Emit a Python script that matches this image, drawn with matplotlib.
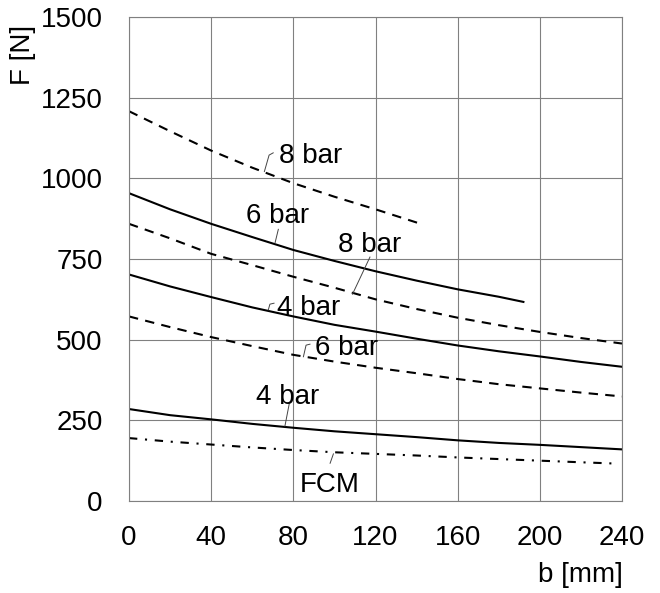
import matplotlib
matplotlib.use("Agg")
import matplotlib.pyplot as plt

plt.rcParams['font.family'] = ['Liberation Sans', 'DejaVu Sans']

# Data (b in mm, F in N), read every 20 mm
b_full = [0, 20, 40, 60, 80, 100, 120, 140, 160, 180, 200, 220, 240]

b_8bar_dash = [0, 20, 40, 60, 80, 100, 120, 142]
f_8bar_dash = [1208, 1146, 1086, 1033, 985, 943, 904, 859]

b_6bar_solid = [0, 20, 40, 60, 80, 100, 120, 140, 160, 180, 192]
f_6bar_solid = [954, 904, 859, 818, 778, 744, 712, 683, 656, 633, 617]

f_8bar_dash2 = [859, 814, 766, 731, 695, 661, 625, 595, 568, 545, 524, 505, 488]
f_4bar_solid = [702, 665, 632, 600, 572, 546, 525, 503, 482, 464, 448, 431, 416]
f_6bar_dash2 = [572, 539, 508, 480, 453, 432, 413, 396, 378, 362, 349, 336, 324]
f_4bar_solid2 = [285, 266, 253, 239, 227, 216, 207, 198, 188, 180, 174, 167, 160]

b_fcm = [0, 20, 40, 60, 80, 100, 120, 140, 160, 180, 200, 220, 237]
f_fcm = [195, 184, 175, 166, 158, 151, 146, 141, 135, 130, 125, 120, 116]

x_ticks = [0, 40, 80, 120, 160, 200, 240]
y_ticks = [0, 250, 500, 750, 1000, 1250, 1500]

# Curve labels: text, left x, baseline y (data units)
label_texts = ["8 bar", "6 bar", "8 bar", "4 bar", "6 bar", "4 bar", "FCM"]
label_x = [73.0, 57.0, 101.7, 72.1, 90.5, 61.8, 83.2]
label_y = [1047, 862, 773, 576, 452, 301, 28]

# Leader lines (data units)
leaders = [
    ([65.9, 68.2, 70.2], [1021, 1072, 1079]),
    ([71.1, 72.7], [800, 842]),
    ([108.8, 117.3], [641, 756]),
    ([67.8, 68.6, 70.6], [592, 610, 613]),
    ([84.9, 86.2, 88.1], [447, 483, 486]),
    ([75.9, 78.0], [232, 301]),
    ([97.9, 99.5], [117, 146]),
]

W, H = 660, 593
fig = plt.figure(figsize=(W / 100, H / 100), dpi=100)
ax = fig.add_axes([129 / W, 1 - 501 / H, (622 - 129) / W, (501 - 17) / H])

grid_c = '#808080'
fs = 20
ax.set_xlim(0, 240)
ax.set_ylim(0, 1500)
ax.set_xticks(x_ticks)
ax.set_yticks(y_ticks)
ax.grid(True, color=grid_c, lw=0.8)
ax.set_axisbelow(True)
for s in ax.spines.values():
    s.set_color(grid_c)
    s.set_linewidth(0.8)
ax.tick_params(length=0, labelsize=fs, colors='black')
ax.tick_params(axis='y', pad=19)
ax.tick_params(axis='x', pad=17.5)

lw = 1.5
dash = (0, (4.5, 3.5))
dashdot = (0, (4, 3.7, 1, 3.7))
ax.plot(b_8bar_dash, f_8bar_dash, color='black', lw=lw, linestyle=dash)
ax.plot(b_6bar_solid, f_6bar_solid, color='black', lw=lw)
ax.plot(b_full, f_8bar_dash2, color='black', lw=lw, linestyle=dash)
ax.plot(b_full, f_4bar_solid, color='black', lw=lw)
ax.plot(b_full, f_6bar_dash2, color='black', lw=lw, linestyle=dash)
ax.plot(b_full, f_4bar_solid2, color='black', lw=lw)
ax.plot(b_fcm, f_fcm, color='black', lw=lw, linestyle=dashdot)

for t, tx, ty in zip(label_texts, label_x, label_y):
    ax.text(tx, ty, t, fontsize=fs, ha='left', va='baseline', color='black')
for lx, ly in leaders:
    ax.plot(lx, ly, color='#444444', lw=0.7)

fig.text(23.5 / W, 1 - 54.5 / H, "F [N]", rotation=90, fontsize=fs,
         ha='center', va='center')
fig.text(623 / W, 1 - 575 / H, "b [mm]", fontsize=fs, ha='right', va='center')

fig.savefig("out.png", dpi=100)
